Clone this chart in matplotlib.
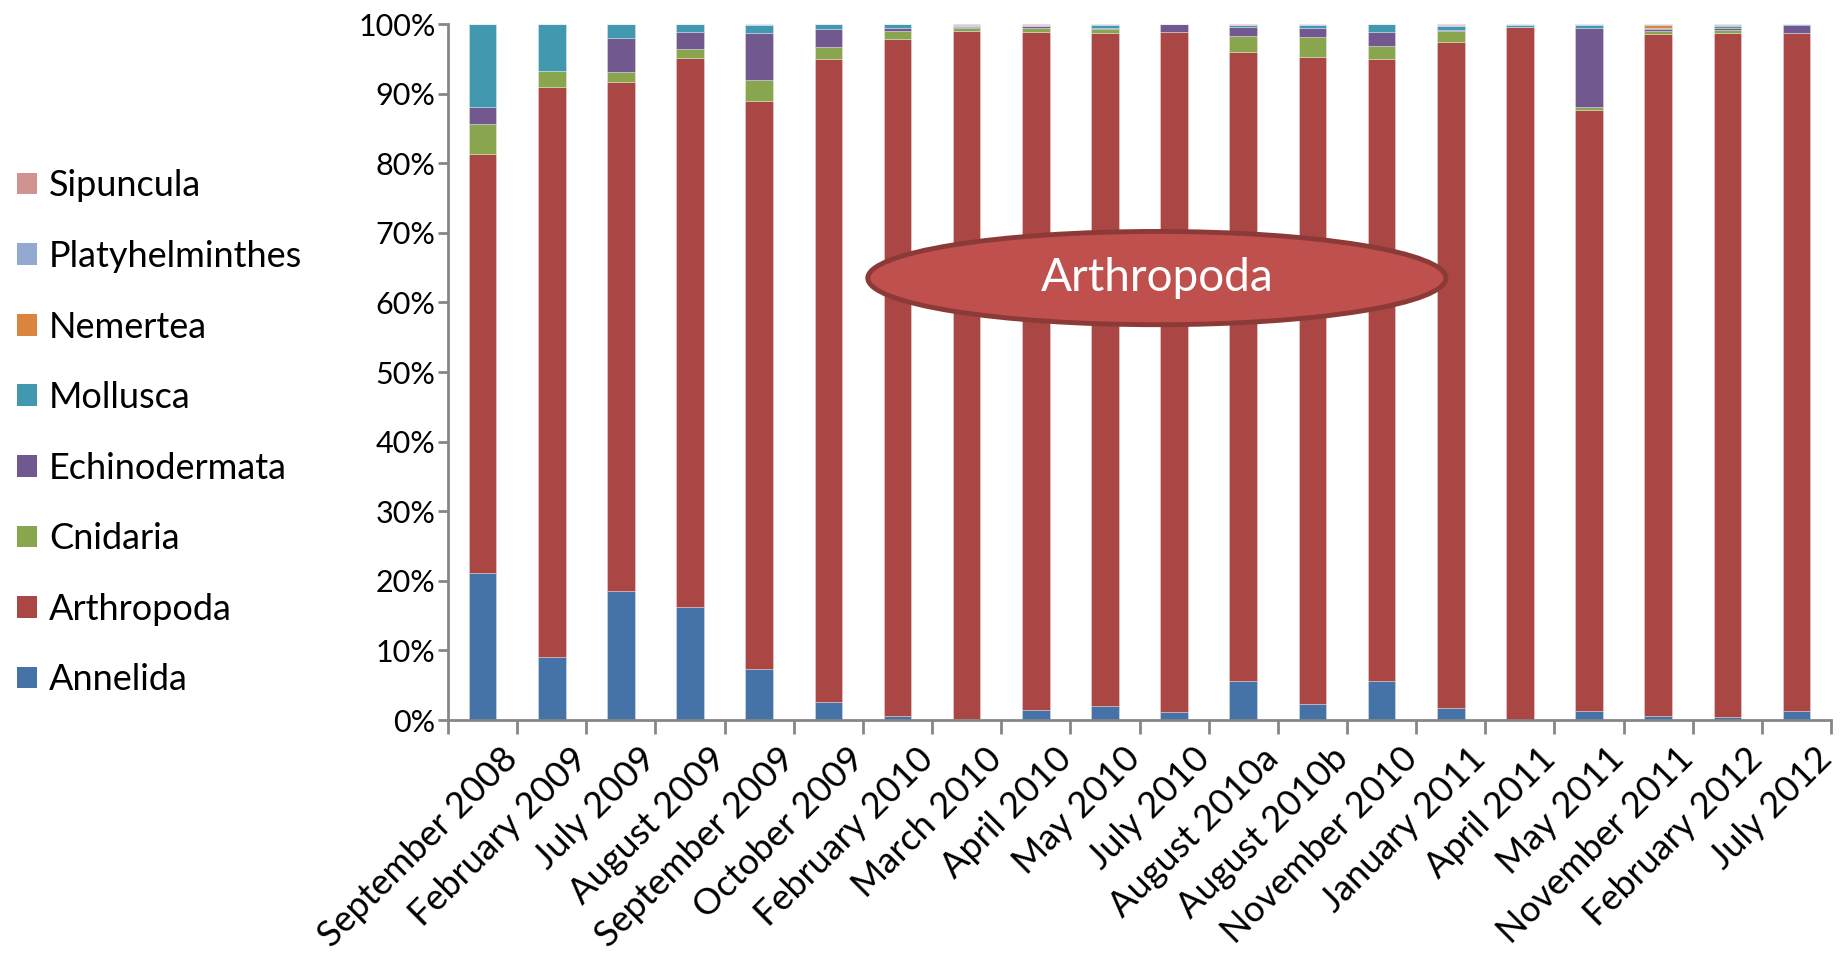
import matplotlib
matplotlib.use("Agg")
import matplotlib.pyplot as plt
import numpy as np
from matplotlib.patches import Ellipse, Patch
from matplotlib.ticker import FixedLocator, PercentFormatter
from matplotlib.transforms import ScaledTranslation

plt.rcParams['font.family'] = ['Lato', 'DejaVu Sans']

months = ["September 2008", "February 2009", "July 2009", "August 2009",
          "September 2009", "October 2009", "February 2010", "March 2010",
          "April 2010", "May 2010", "July 2010", "August 2010a",
          "August 2010b", "November 2010", "January 2011", "April 2011",
          "May 2011", "November 2011", "February 2012", "July 2012"]

# percent of individuals per phylum in each sample
annelida = [21.1, 9.0, 18.6, 16.2, 7.3, 2.6, 0.6, 0.2, 1.5, 2.0,
            1.2, 5.6, 2.25, 5.6, 1.8, 0.0, 1.3, 0.55, 0.4, 1.25]
arthropoda = [60.2, 81.9, 73.0, 78.9, 81.6, 92.4, 97.2, 98.75, 97.4, 96.75,
              97.6, 90.4, 93.05, 89.4, 95.65, 99.55, 86.3, 98.0, 98.35, 97.45]
cnidaria = [4.3, 2.3, 1.5, 1.3, 3.0, 1.75, 1.2, 0.45, 0.5, 0.5,
            0.0, 2.3, 2.9, 1.8, 1.6, 0.0, 0.5, 0.5, 0.45, 0.0]
echinodermata = [2.5, 0.0, 4.9, 2.4, 6.8, 2.55, 0.45, 0.15, 0.35, 0.25,
                 1.2, 1.3, 1.3, 2.0, 0.15, 0.0, 11.4, 0.2, 0.2, 1.1]
mollusca = [11.9, 6.8, 2.0, 1.2, 1.15, 0.7, 0.55, 0.15, 0.0, 0.35,
            0.0, 0.3, 0.3, 1.2, 0.5, 0.3, 0.4, 0.15, 0.3, 0.2]
nemertea = [0, 0, 0, 0, 0, 0, 0, 0, 0, 0,
            0, 0, 0, 0, 0, 0, 0, 0.45, 0.15, 0]
platyhelminthes = [0, 0, 0, 0, 0.15, 0, 0, 0.15, 0.1, 0.15,
                   0, 0, 0.2, 0, 0.2, 0.15, 0.1, 0.15, 0.15, 0]
sipuncula = [0, 0, 0, 0, 0, 0, 0, 0.15, 0.15, 0,
             0, 0.1, 0, 0, 0.1, 0, 0, 0, 0, 0]

phyla = ["Annelida", "Arthropoda", "Cnidaria", "Echinodermata",
         "Mollusca", "Nemertea", "Platyhelminthes", "Sipuncula"]
series = [annelida, arthropoda, cnidaria, echinodermata,
          mollusca, nemertea, platyhelminthes, sipuncula]
colors = ["#4572A7", "#AA4643", "#89A54E", "#71588F",
          "#4198AF", "#DB843D", "#93A9CF", "#D19392"]

fig = plt.figure(figsize=(18.49, 9.57), dpi=100)
ax = fig.add_axes([0.2423, 0.2476, 0.748, 0.7273])

x = np.arange(len(months))
bottom = np.zeros(len(months))
for name, vals, c in zip(phyla, series, colors):
    vals = np.array(vals, dtype=float)
    ax.bar(x, vals, 0.4, bottom=bottom, color=c, label=name,
           edgecolor=(1, 1, 1, 0.35), linewidth=0.6)
    bottom += vals

ax.set_xlim(-0.5, len(months) - 0.5)
ax.set_ylim(0, 100)

# axes styling
for s in ["top", "right"]:
    ax.spines[s].set_visible(False)
for s in ["left", "bottom"]:
    ax.spines[s].set_color("#868686")
    ax.spines[s].set_linewidth(2)

ax.set_yticks(np.arange(0, 101, 10))
ax.yaxis.set_major_formatter(PercentFormatter(decimals=0))
ax.tick_params(axis="y", direction="out", length=7, width=2, color="#868686",
               labelsize=22, pad=2)

ax.set_xticks(x)
ax.set_xticklabels(months, rotation=45, ha="right", va="center",
                   rotation_mode="anchor", fontsize=26)
ax.tick_params(axis="x", which="major", length=0, pad=24)
ax.xaxis.set_minor_locator(FixedLocator(np.arange(-0.5, len(months), 1)))
ax.tick_params(axis="x", which="minor", direction="out", length=10, width=2,
               color="#868686")
shift = ScaledTranslation(0.30, 0, fig.dpi_scale_trans)
for lbl in ax.get_xticklabels():
    lbl.set_transform(lbl.get_transform() + shift)

# legend on the left, top entry is the last stacked series
handles = [Patch(facecolor=c) for c in colors][::-1]
fig.legend(handles, phyla[::-1], loc="upper left",
           bbox_to_anchor=(0.009, 0.823), frameon=False, fontsize=26,
           handlelength=0.55, handleheight=0.55, handletextpad=0.35,
           labelspacing=1.04, borderpad=0, borderaxespad=0)

# callout over the middle of the chart
ell = Ellipse((9.75, 63.5), 8.36, 13.4, facecolor="#C0504D",
              edgecolor="#8C3A38", linewidth=3.5, zorder=5)
ax.add_patch(ell)
ax.text(9.75, 63.5, "Arthropoda", color="white", fontsize=33,
        ha="center", va="center", zorder=6)

fig.savefig("out.png", dpi=100)
